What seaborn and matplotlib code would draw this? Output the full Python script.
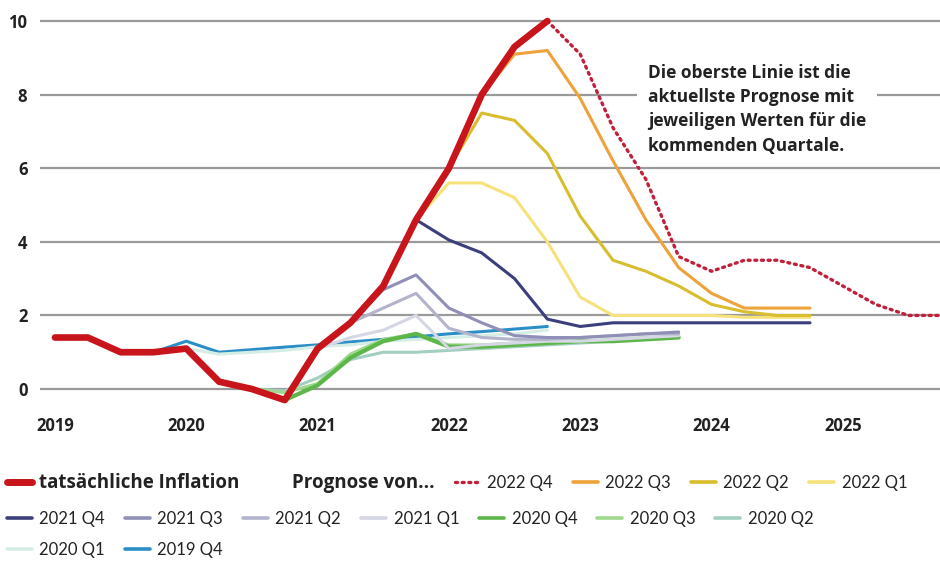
import matplotlib
matplotlib.use("Agg")
import matplotlib.pyplot as plt
from matplotlib.lines import Line2D
import seaborn as sns
import pandas as pd

# ---------------- data ----------------
actual_start = "2019 Q1"
actual = [1.4, 1.4, 1.0, 1.0, 1.1, 0.2, 0.0, -0.3, 1.1, 1.8, 2.8, 4.6, 6.0, 8.0, 9.3, 10.0]

forecast_names = ["2022 Q4", "2022 Q3", "2022 Q2", "2022 Q1", "2021 Q4", "2021 Q3", "2021 Q2",
                  "2021 Q1", "2020 Q4", "2020 Q3", "2020 Q2", "2020 Q1", "2019 Q4"]
forecast_starts = ["2022 Q4", "2022 Q2", "2022 Q1", "2021 Q4", "2021 Q4", "2021 Q2", "2021 Q2",
                   "2021 Q1", "2020 Q4", "2020 Q3", "2020 Q2", "2020 Q1", "2019 Q4"]
f_2022q4 = [10.0, 9.1, 7.1, 5.7, 3.6, 3.2, 3.5, 3.5, 3.3, 2.8, 2.3, 2.0, 2.0]
f_2022q3 = [8.0, 9.1, 9.2, 7.9, 6.2, 4.6, 3.3, 2.6, 2.2, 2.2, 2.2]
f_2022q2 = [6.0, 7.5, 7.3, 6.4, 4.7, 3.5, 3.2, 2.8, 2.3, 2.1, 2.0, 2.0]
f_2022q1 = [4.6, 5.6, 5.6, 5.2, 4.0, 2.5, 2.0, 2.0, 2.0, 2.0, 1.95, 1.95, 1.95]
f_2021q4 = [4.6, 4.05, 3.7, 3.0, 1.9, 1.7, 1.8, 1.8, 1.8, 1.8, 1.8, 1.8, 1.8]
f_2021q3 = [1.8, 2.7, 3.1, 2.2, 1.8, 1.45, 1.4, 1.4, 1.45, 1.5, 1.55]
f_2021q2 = [1.8, 2.2, 2.6, 1.65, 1.4, 1.35, 1.35, 1.4, 1.45, 1.5, 1.5]
f_2021q1 = [1.1, 1.4, 1.6, 2.0, 1.1, 1.2, 1.25, 1.3, 1.3, 1.35, 1.4, 1.45]
f_2020q4 = [-0.3, 0.1, 0.85, 1.3, 1.5, 1.15, 1.15, 1.2, 1.25, 1.3, 1.3, 1.35, 1.4]
f_2020q3 = [0.0, -0.1, 0.15, 0.95, 1.35, 1.5, 1.2, 1.2, 1.25, 1.3, 1.3, 1.35, 1.4]
f_2020q2 = [0.2, 0.0, -0.05, 0.3, 0.8, 1.0, 1.0, 1.05, 1.1, 1.15, 1.2, 1.25, 1.3]
f_2020q1 = [1.1, 0.95, 1.0, 1.05, 1.15, 1.2, 1.3, 1.35, 1.4, 1.45, 1.5, 1.6]
f_2019q4 = [1.0, 1.3, 1.0, 1.07, 1.14, 1.2, 1.28, 1.35, 1.42, 1.5, 1.56, 1.63, 1.7]
forecast_values = [f_2022q4, f_2022q3, f_2022q2, f_2022q1, f_2021q4, f_2021q3, f_2021q2,
                   f_2021q1, f_2020q4, f_2020q3, f_2020q2, f_2020q1, f_2019q4]

year_ticks = [2019, 2020, 2021, 2022, 2023, 2024, 2025]
y_ticks = [0, 2, 4, 6, 8, 10]
annotation = "Die oberste Linie ist die\naktuellste Prognose mit\njeweiligen Werten für die\nkommenden Quartale."
label_actual = "tatsächliche Inflation"
label_prognose = "Prognose von..."

# ---------------- styles ----------------
colors = {
    "2022 Q4": "#c21f3a", "2022 Q3": "#eda23a", "2022 Q2": "#d8bd2e", "2022 Q1": "#f6e27a",
    "2021 Q4": "#3b3f7c", "2021 Q3": "#8f8fb8", "2021 Q2": "#b3b3cb", "2021 Q1": "#d5d7e4",
    "2020 Q4": "#5db64a", "2020 Q3": "#9ed98e", "2020 Q2": "#a3cfc0", "2020 Q1": "#d5eee5",
    "2019 Q4": "#2b8ec6",
}
widths = {k: 2.2 for k in colors}
widths["2020 Q4"] = 3.0
red = "#c8141b"
bold_font = ["Open Sans", "DejaVu Sans"]


def qpos(label, n):
    y, q = label.split(" Q")
    start = int(y) + (int(q) - 1) / 4
    return [start + i / 4 for i in range(n)]


sns.set_theme(style="white")
plt.rcParams["font.family"] = ["Lato", "DejaVu Sans"]

fig = plt.figure(figsize=(9.4, 5.61), dpi=100)
ax = fig.add_axes([40 / 940, 1 - 405.6 / 561, 1 - 40 / 940, (405.6 - 10) / 561])

for yv in y_ticks:
    ax.axhline(yv, color="#9a9a9a", lw=1.6, zorder=0)

# draw forecasts from oldest to newest
for name, start, vals in reversed(list(zip(forecast_names, forecast_starts, forecast_values))):
    df = pd.DataFrame({"x": qpos(start, len(vals)), "y": vals})
    if name == "2022 Q4":
        sns.lineplot(data=df, x="x", y="y", ax=ax, color=colors[name], lw=2.4,
                     linestyle=(0, (0.6, 1.4)), dash_capstyle="round", zorder=3)
    else:
        sns.lineplot(data=df, x="x", y="y", ax=ax, color=colors[name], lw=widths[name], zorder=2)

dfa = pd.DataFrame({"x": qpos(actual_start, len(actual)), "y": actual})
sns.lineplot(data=dfa, x="x", y="y", ax=ax, color=red, lw=4.8, zorder=4,
             solid_joinstyle="round", solid_capstyle="round")

ax.set_xlim(2018.886, 2025.74)
ax.set_ylim(-0.45, 10.3)
ax.set_xticks(year_ticks)
ax.set_xticklabels([str(y) for y in year_ticks])
ax.set_yticks(y_ticks)
ax.set_yticklabels([str(y) for y in y_ticks])
ax.tick_params(axis="both", length=0, labelsize=12, colors="#222222")
ax.tick_params(axis="x", pad=8)
ax.tick_params(axis="y", pad=9)
for lab in ax.get_xticklabels() + ax.get_yticklabels():
    lab.set_fontweight("bold")
    lab.set_family(bold_font)
ax.set_xlabel("")
ax.set_ylabel("")
for s in ax.spines.values():
    s.set_visible(False)
ax.set_facecolor("white")

ax.text(0.6756, 0.864, annotation, transform=ax.transAxes, fontsize=12.5, fontweight="bold",
        family=bold_font, color="#222222", va="top", ha="left", linespacing=1.45, zorder=5,
        bbox=dict(facecolor="white", edgecolor="none", pad=8))

# ---------------- legend (three rows) ----------------
row1 = [(Line2D([], [], color=red, lw=5, solid_capstyle="round"), label_actual),
        (Line2D([], [], color="none", lw=0), label_prognose)]
for name in forecast_names[:4]:
    if name == "2022 Q4":
        h = Line2D([], [], color=colors[name], lw=2.4, linestyle=(0, (0.6, 1.4)), dash_capstyle="round")
    else:
        h = Line2D([], [], color=colors[name], lw=2.6)
    row1.append((h, name))
row2 = [(Line2D([], [], color=colors[n], lw=2.6), n) for n in forecast_names[4:11]]
row3 = [(Line2D([], [], color=colors[n], lw=2.6), n) for n in forecast_names[11:]]

for row, yy in [(row1, 1 - 483 / 561), (row2, 1 - 519 / 561), (row3, 1 - 550 / 561)]:
    leg = fig.legend([h for h, _ in row], [t for _, t in row], loc="center left",
                     bbox_to_anchor=(0.0, yy), ncol=len(row), frameon=False, fontsize=12,
                     handlelength=1.5, handletextpad=0.45, columnspacing=1.2, borderaxespad=0)
    for t in leg.get_texts():
        t.set_color("#222222")
        if t.get_text() in (label_actual, label_prognose):
            t.set_fontweight("bold")
            t.set_family(bold_font)
            t.set_fontsize(13.5)

fig.savefig("out.png", dpi=100, facecolor="white")
